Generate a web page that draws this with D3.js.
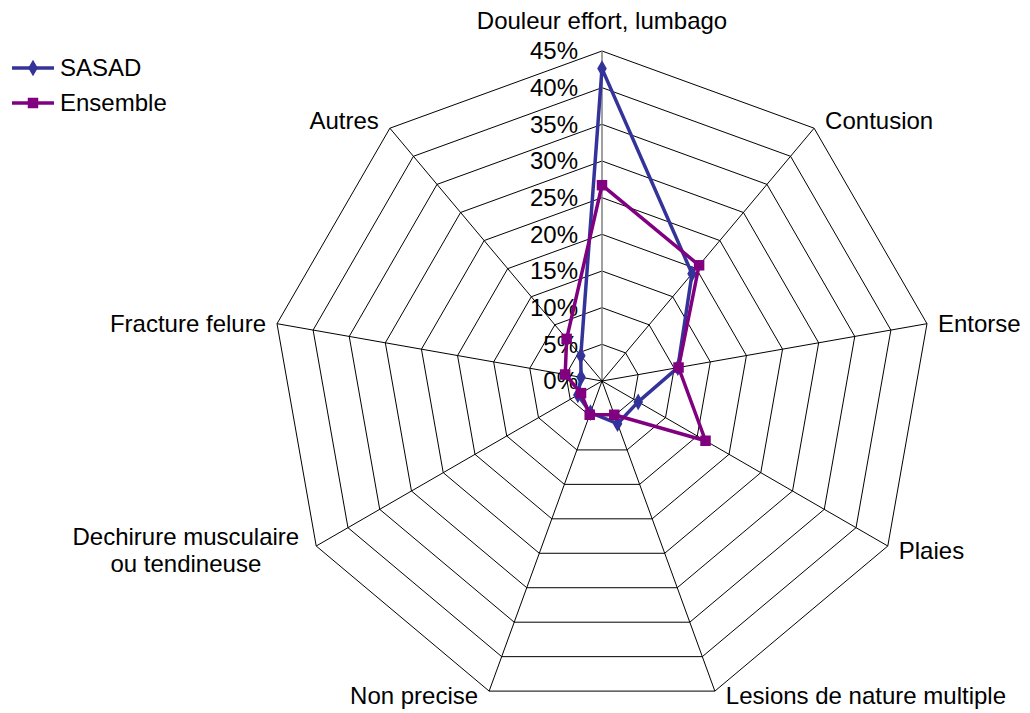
<!DOCTYPE html>
<html>
<head>
<meta charset="utf-8">
<script src="https://cdn.jsdelivr.net/npm/d3@7"></script>
<style>
  body { margin: 0; background: #fff; }
  text { font-family: "Liberation Sans", Arial, sans-serif; fill: #000; }
</style>
</head>
<body>
<script>
// categories (clockwise from the top)
var categories = ["Douleur effort, lumbago", "Contusion", "Entorse", "Plaies",
  "Lesions de nature multiple", "Non precise", "Dechirure musculaire\nou tendineuse",
  "Fracture felure", "Autres"];
// values in %
var sasad    = [42.6, 19.1, 10.5, 5.7, 6.2, 4.6, 3.8, 2.9, 4.5];
var ensemble = [26.7, 20.6, 10.6, 16.3, 4.9, 4.9, 3.3, 5.1, 7.5];
var ticks = [0, 5, 10, 15, 20, 25, 30, 35, 40, 45];

var w = 1030, h = 713;
var cx = 602, cy = 381;
var fontSize = 24;

var svg = d3.select("body").append("svg")
  .attr("width", w)
  .attr("height", h);

var r = d3.scaleLinear().domain([0, 45]).range([0, 330]);
var angle = d3.scalePoint().domain(d3.range(categories.length + 1)).range([0, 2 * Math.PI]);

function pt(i, v) {
  var a = angle(i);
  return [cx + r(v) * Math.sin(a), cy - r(v) * Math.cos(a)];
}

var g = svg.append("g");

// rings
g.selectAll("polygon.ring")
  .data(ticks.slice(1))
  .enter()
  .append("polygon")
  .attr("class", "ring")
  .attr("points", function(t) {
    return categories.map(function(c, i) { return pt(i, t).join(","); }).join(" ");
  })
  .attr("fill", "none")
  .attr("stroke", "#000")
  .attr("stroke-width", 1);

// spokes
g.selectAll("line.spoke")
  .data(categories)
  .enter()
  .append("line")
  .attr("class", "spoke")
  .attr("x1", cx).attr("y1", cy)
  .attr("x2", function(d, i) { return pt(i, 45)[0]; })
  .attr("y2", function(d, i) { return pt(i, 45)[1]; })
  .attr("stroke", function(d, i) { return i === 0 ? "#808080" : "#000"; })
  .attr("stroke-width", function(d, i) { return i === 0 ? 1.5 : 1; });

// tick labels
g.selectAll("text.tick")
  .data(ticks)
  .enter()
  .append("text")
  .attr("class", "tick")
  .attr("x", cx - 24)
  .attr("y", function(t) { return cy - r(t); })
  .attr("dy", "0.35em")
  .attr("text-anchor", "end")
  .style("font-size", fontSize + "px")
  .text(function(t) { return t + "%"; });

// category labels
categories.forEach(function(c, i) {
  var p = pt(i, 45);
  var s = Math.sin(angle(i)), co = Math.cos(angle(i));
  var anchor = s > 0.05 ? "start" : (s < -0.05 ? "end" : "middle");
  var x = p[0] + (s > 0.05 ? 11 : (s < -0.05 ? -11 : 0));
  var y;
  if (i === 0) y = p[1] - 22;
  else if (co > 0.5) y = p[1] + 1;
  else if (co > 0) y = p[1] + 8;
  else y = p[1] + 13;
  var lines = c.split("\n");
  var t = svg.append("text")
    .attr("x", x)
    .attr("y", y)
    .attr("text-anchor", anchor)
    .style("font-size", fontSize + "px")
    .text(lines[0]);
  if (lines.length > 1) {
    // two-line label, centred block ending at the vertex side
    var len = t.node().getComputedTextLength();
    var mid = x - 6 - len / 2;
    t.attr("x", mid).attr("text-anchor", "middle").attr("y", y - 14);
    svg.append("text")
      .attr("x", mid)
      .attr("y", y + 13)
      .attr("text-anchor", "middle")
      .style("font-size", fontSize + "px")
      .text(lines[1]);
  }
});

var line = d3.line()
  .x(function(d, i) { return pt(i, d)[0]; })
  .y(function(d, i) { return pt(i, d)[1]; })
  .curve(d3.curveLinearClosed);

var series = [
  { name: "SASAD", values: sasad, color: "#333399", symbol: d3.symbolDiamond, size: 80 },
  { name: "Ensemble", values: ensemble, color: "#800080", symbol: d3.symbolSquare, size: 110 }
];

series.forEach(function(s) {
  g.append("path")
    .attr("d", line(s.values))
    .attr("fill", "none")
    .attr("stroke", s.color)
    .attr("stroke-width", 3.5)
    .attr("stroke-linejoin", "round");
  g.selectAll(null)
    .data(s.values)
    .enter()
    .append("path")
    .attr("d", d3.symbol().type(s.symbol).size(s.size))
    .attr("transform", function(d, i) { return "translate(" + pt(i, d) + ")"; })
    .attr("fill", s.color);
});

// legend
var legend = svg.append("g").attr("transform", "translate(12,68)");
series.forEach(function(s, k) {
  var lg = legend.append("g").attr("transform", "translate(0," + (k * 35) + ")");
  lg.append("line")
    .attr("x1", 0).attr("x2", 42)
    .attr("stroke", s.color)
    .attr("stroke-width", 3.5);
  lg.append("path")
    .attr("d", d3.symbol().type(s.symbol).size(s.size))
    .attr("transform", "translate(21,0)")
    .attr("fill", s.color);
  lg.append("text")
    .attr("x", 48)
    .attr("y", 8)
    .style("font-size", fontSize + "px")
    .text(s.name);
});
</script>
</body>
</html>
